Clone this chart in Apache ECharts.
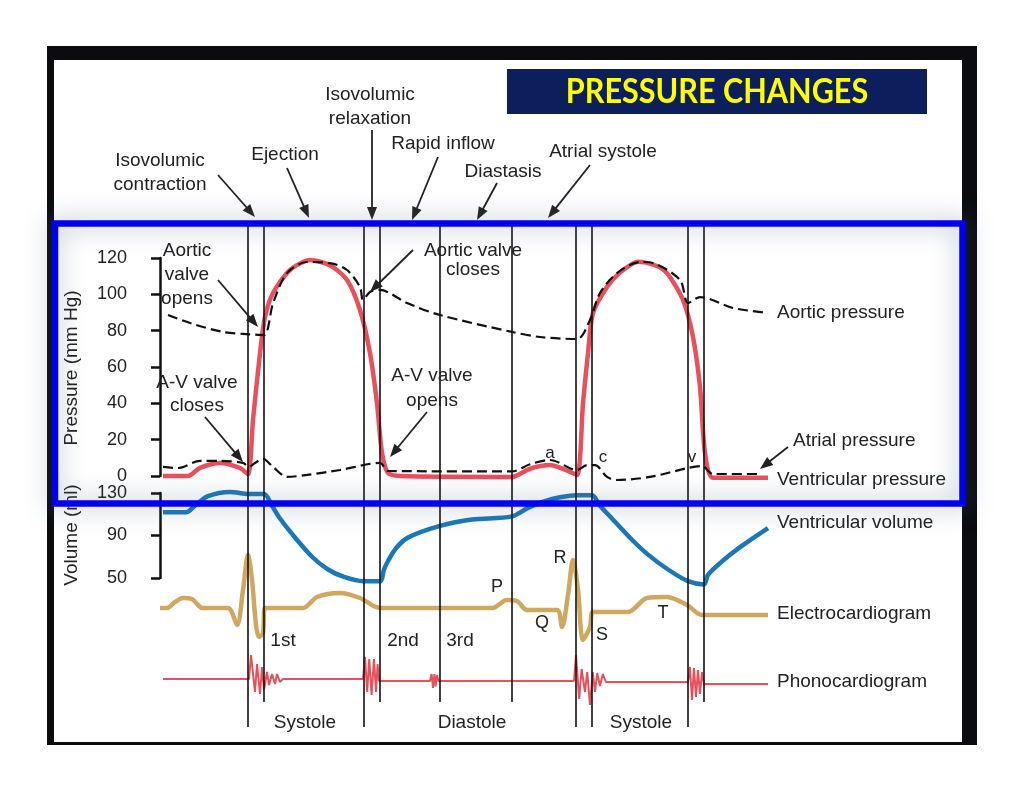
<!DOCTYPE html>
<html><head><meta charset="utf-8">
<script src="https://cdn.jsdelivr.net/npm/echarts@6/dist/echarts.min.js"></script>
<style>html,body{margin:0;padding:0;background:#fff}#c{width:1024px;height:791px}</style>
</head><body><div id="c"></div>
<script>
// ---- data: time in seconds ----
const pressureTicks = [0, 20, 40, 60, 80, 100, 120];
const volumeTicks = [50, 90, 130];
// phase boundaries (s)
const phaseLong = [0.2225, 0.5075, 1.0425, 1.08, 1.32];
const phaseShort = [0.26, 0.55, 0.6975, 0.88, 1.36];

// [time, mmHg]
const ventricularPressure = [
  [0.0075,0],[0.07,0],[0.10,4.5],[0.15,7.2],[0.20,4.4],[0.22,1],[0.2325,30.8],[0.25,67.7],
  [0.2625,87.5],[0.2825,100.7],[0.325,113.4],[0.375,118.9],[0.425,116],[0.4675,107.9],
  [0.50,91.4],[0.525,67.7],[0.5425,40],[0.555,12.7],[0.57,1.7],[0.60,0],[0.88,-0.5],
  [0.925,4],[0.975,6],[1.0125,3.5],[1.0425,0.5],[1.0575,40],[1.07,67.7],[1.0825,89.7],
  [1.1175,104],[1.15,112],[1.195,118],[1.2375,116],[1.2675,111.7],[1.3075,96.9],
  [1.3325,76.5],[1.35,49],[1.3625,12.7],[1.3825,-1],[1.52,-1]
];
const aorticPressure = [
  [0.02,88.6],[0.075,84.2],[0.1575,79.3],[0.2225,78],[0.26,77.6],[0.2825,95],[0.3175,111.7],
  [0.3675,117.8],[0.425,117.2],[0.4675,113.4],[0.50,104],[0.5075,96.9],[0.525,101.3],
  [0.55,102.4],[0.6175,95.2],[0.70,88.6],[0.88,79.3],[0.95,76.5],[1.0425,75.4],[1.075,85.9],
  [1.10,100.7],[1.1425,111.7],[1.20,117.8],[1.2325,117.2],[1.30,107.9],[1.32,95.2],
  [1.35,98.5],[1.4325,92.5],[1.52,89.7]
];
const atrialPressure = [
  [0.0075,5],[0.045,4.4],[0.10,8.3],[0.15,8.3],[0.2075,7.2],[0.2225,5],[0.2375,7.2],
  [0.2575,9.4],[0.2825,5],[0.3175,-0.5],[0.3675,0.6],[0.45,3.3],[0.55,7.2],[0.57,2.8],
  [0.88,2.5],[0.925,6.5],[0.975,8.8],[1.0425,3.3],[1.0675,6],[1.0875,6],[1.1175,-0.5],
  [1.1425,-2.2],[1.225,-0.5],[1.32,4.4],[1.355,5.5],[1.3825,1.1],[1.50,1.1]
];
// [time, ml]
const ventricularVolume = [
  [0.0075,112],[0.065,112],[0.09,119],[0.12,127],[0.175,131],[0.2225,129],[0.26,129],
  [0.28,118],[0.30,106],[0.34,87],[0.38,70],[0.42,58],[0.46,51],[0.5075,47],[0.55,47],
  [0.56,58],[0.57,66],[0.59,78],[0.62,88],[0.70,99],[0.78,105],[0.88,108],[0.92,116],
  [0.96,122],[1.0,126],[1.0425,128],[1.08,128],[1.10,118],[1.13,106],[1.18,86],[1.22,72],
  [1.27,58],[1.32,47],[1.36,44],[1.37,53],[1.40,64],[1.45,79],[1.52,97]
];
// [time, mV]
const ecg = [
  [0,0.04],[0.0175,0.04],[0.0375,0.16],[0.0575,0.24],[0.08,0.22],[0.095,0.1],[0.105,0.04],
  [0.17,0.04],[0.1925,-0.3],[0.2075,0.4],[0.22,1.1],[0.23,0.6],[0.24,-0.3],[0.2475,-0.54],
  [0.2575,-0.46],[0.2625,0.04],[0.3575,0.04],[0.3925,0.26],[0.45,0.34],[0.50,0.24],[0.55,0.04],
  [0.83,0.04],[0.8675,0.2],[0.8925,0.18],[0.9175,0],[0.9925,0],[1.005,-0.34],[1.02,0.3],
  [1.0325,1.0],[1.045,0.4],[1.0575,-0.6],[1.075,-0.34],[1.0825,-0.04],[1.17,-0.04],
  [1.2175,0.24],[1.2675,0.26],[1.3175,0.1],[1.355,-0.1],[1.52,-0.1]
];
// [time, amplitude]
const phono = [
  [0.0075,0],[0.2225,0],[0.2275,0.96],[0.2375,-0.52],[0.2425,0.6],[0.25,-0.6],[0.255,0.48],
  [0.26,-0.44],[0.2675,0.28],[0.2725,-0.24],[0.28,0.2],[0.2875,-0.2],[0.2925,0.2],[0.30,-0.12],
  [0.3075,0],[0.5075,0],[0.5125,0.88],[0.518,-0.52],[0.523,0.8],[0.529,-0.64],[0.535,0.8],
  [0.54,-0.52],[0.544,0.6],[0.5475,-0.08],[0.675,-0.08],[0.679,0.2],[0.6825,-0.36],
  [0.686,0.2],[0.689,-0.3],[0.6925,0.16],[0.696,-0.08],[1.035,-0.08],[1.04,0.96],
  [1.048,-0.8],[1.054,0.4],[1.0625,-0.52],[1.068,0.28],[1.075,-1.04],[1.082,0.28],
  [1.0875,-0.52],[1.093,0.24],[1.10,-0.28],[1.107,0.2],[1.115,-0.12],[1.123,-0.12],
  [1.32,-0.12],[1.325,0.48],[1.33,-0.84],[1.335,0.44],[1.34,-0.72],[1.345,0.36],[1.35,-0.6],
  [1.355,0.28],[1.36,-0.2],[1.52,-0.2]
];

const RED = '#e8505c', BLUE = '#1a78b8', TAN = '#cfa760', INK = '#222';
const FONT = 'Liberation Sans, Arial, sans-serif';
const T_MAX = 1.55;

const chart = echarts.init(document.getElementById('c'), null, {renderer: 'canvas'});

function xAx(i){ return {gridIndex:i, type:'value', min:0, max:T_MAX, show:false}; }
const yAxisStyle = {
  axisLine:{show:true, lineStyle:{color:'#111', width:2.5}},
  axisTick:{show:true, length:9, lineStyle:{color:'#111', width:2.5}},
  axisLabel:{color:'#222', fontSize:18, fontFamily:FONT, margin:19},
  splitLine:{show:false}
};

function txt(text, x, y, opt){
  opt = opt || {};
  return {type:'text', z:110, x:x, y:y, rotation:opt.rot||0,
    style:{text:text, x:0, y:0, fill:opt.fill||INK, font:(opt.weight||'normal')+' '+(opt.size||19)+'px '+FONT,
      align:opt.align||'center', verticalAlign:'middle', lineHeight:opt.lh||22}};
}
function arrow(x1,y1,x2,y2){
  const a = Math.atan2(y2-y1, x2-x1), L = 13, W = 5;
  const bx = x2 - L*Math.cos(a), by = y2 - L*Math.sin(a);
  return [
    {type:'line', z:110, shape:{x1:x1,y1:y1,x2:bx+3*Math.cos(a),y2:by+3*Math.sin(a)}, style:{stroke:INK, lineWidth:1.8}},
    {type:'polygon', z:110, shape:{points:[[x2,y2],[bx - W*Math.sin(a), by + W*Math.cos(a)],[bx + W*Math.sin(a), by - W*Math.cos(a)]]}, style:{fill:INK}}
  ];
}

const graphics = [
  {type:'rect', z:-10, shape:{x:47,y:46,width:930,height:699}, style:{fill:'#0b0b10'}},
  {type:'rect', z:-9, shape:{x:54,y:60,width:908,height:682}, style:{fill:'#ffffff'}},
  {type:'rect', z:120, shape:{x:55,y:223.5,width:907.5,height:280}, style:{fill:'none', stroke:'#0000f0', lineWidth:6.5, shadowBlur:24, shadowColor:'rgba(80,105,135,0.6)'}},
  {type:'rect', z:-5, shape:{x:507,y:69,width:420,height:45}, style:{fill:'#0c1f5c'}},
  {type:'text', z:110, x:717, y:92, scaleX:0.9, style:{text:'PRESSURE CHANGES', x:0, y:0, fill:'#ffff00', font:'bold 34px Lato, sans-serif', align:'center', verticalAlign:'middle'}},
  // top phase labels
  txt('Isovolumic\ncontraction', 160, 173, {lh:24}),
  txt('Ejection', 285, 155),
  txt('Isovolumic\nrelaxation', 370, 107, {lh:24}),
  txt('Rapid inflow', 443, 144),
  txt('Diastasis', 503, 172),
  txt('Atrial systole', 603, 152),
  // pressure annotations
  txt('Aortic\nvalve\nopens', 187, 275, {lh:24}),
  txt('Aortic valve\ncloses', 473, 260, {lh:19}),
  txt('A-V valve\ncloses', 197, 394, {lh:23}),
  txt('A-V valve\nopens', 432, 388, {lh:25}),
  txt('a', 550, 453, {size:17}),
  txt('c', 603, 457, {size:17}),
  txt('v', 692, 457, {size:17}),
  txt('Aortic pressure', 777, 313, {align:'left'}),
  txt('Atrial pressure', 793, 441, {align:'left'}),
  txt('Ventricular pressure', 777, 480, {align:'left'}),
  txt('Ventricular volume', 777, 523, {align:'left'}),
  txt('Electrocardiogram', 777, 614, {align:'left'}),
  txt('Phonocardiogram', 777, 682, {align:'left'}),
  // ECG wave labels
  txt('P', 497, 587, {size:18}), txt('Q', 542, 623, {size:18}), txt('R', 560, 558, {size:18}),
  txt('S', 602, 635, {size:18}), txt('T', 663, 613, {size:18}),
  txt('1st', 283, 641), txt('2nd', 403, 641), txt('3rd', 460, 641),
  txt('Systole', 305, 723), txt('Diastole', 472, 723), txt('Systole', 641, 723),
  // axis titles
  txt('Pressure (mm Hg)', 72, 368, {rot:Math.PI/2}),
  txt('Volume (ml)', 72, 535, {rot:Math.PI/2})
].concat(
  arrow(218,175,255,217), arrow(287,168,309,218), arrow(372,130,372,220),
  arrow(438,157,412,220), arrow(497,183,477,220), arrow(590,165,548,218),
  arrow(218,280,258,327), arrow(413,250,370,292), arrow(205,417,243,462),
  arrow(427,412,390,457), arrow(788,447,760,469)
);

function vlineSeries(grid, times){
  return {type:'line', xAxisIndex:grid, yAxisIndex:grid, data:[], z:1, silent:true,
    markLine:{silent:true, symbol:['none','none'], label:{show:false}, animation:false,
      lineStyle:{color:'#111', width:1.6, type:'solid'},
      data: times.map(t => ({xAxis:t}))}};
}

const option = {
  animation:false,
  backgroundColor:'#ffffff',
  grid:[
    {left:160, width:620, top:258, height:218},
    {left:160, width:620, top:493, height:85},
    {left:160, width:620, top:510, height:150},
    {left:160, width:620, top:641.5, height:75},
    {left:160, width:620, top:222, height:505},
    {left:160, width:620, top:222, height:480}
  ],
  xAxis:[xAx(0),xAx(1),xAx(2),xAx(3),xAx(4),xAx(5)],
  yAxis:[
    Object.assign({gridIndex:0, type:'value', min:0, max:120, interval:20, offset:14}, yAxisStyle),
    Object.assign({gridIndex:1, type:'value', min:50, max:130, offset:14}, yAxisStyle, {
      axisTick:{show:true, length:9, lineStyle:{color:'#111', width:2.5}, customValues:volumeTicks},
      axisLabel:{color:'#222', fontSize:18, fontFamily:FONT, margin:19, customValues:volumeTicks}}),
    {gridIndex:2, type:'value', min:-1, max:2, show:false},
    {gridIndex:3, type:'value', min:-1.5, max:1.5, show:false},
    {gridIndex:4, type:'value', min:0, max:1, show:false},
    {gridIndex:5, type:'value', min:0, max:1, show:false}
  ],
  graphic:{elements:graphics},
  series:[
    vlineSeries(4, phaseLong),
    vlineSeries(5, phaseShort),
    {name:'Aortic pressure', type:'line', xAxisIndex:0, yAxisIndex:0, data:aorticPressure, showSymbol:false, clip:false, smooth:0.3, z:4,
      lineStyle:{color:'#111', width:2.2, type:[10,5]}},
    {name:'Atrial pressure', type:'line', xAxisIndex:0, yAxisIndex:0, data:atrialPressure, showSymbol:false, clip:false, smooth:0.3, z:4,
      lineStyle:{color:'#111', width:2.2, type:[10,5]}},
    {name:'Ventricular pressure', type:'line', xAxisIndex:0, yAxisIndex:0, data:ventricularPressure, showSymbol:false, clip:false, smooth:0.25, z:3,
      lineStyle:{color:RED, width:4.5}},
    {name:'Ventricular volume', type:'line', xAxisIndex:1, yAxisIndex:1, data:ventricularVolume, showSymbol:false, clip:false, smooth:0.3, z:3,
      lineStyle:{color:BLUE, width:4.5}},
    {name:'Electrocardiogram', type:'line', xAxisIndex:2, yAxisIndex:2, data:ecg, showSymbol:false, clip:false, smooth:0.3, z:3,
      lineStyle:{color:TAN, width:4.5}},
    {name:'Phonocardiogram', type:'line', xAxisIndex:3, yAxisIndex:3, data:phono, showSymbol:false, clip:false, smooth:false, z:3,
      lineStyle:{color:RED, width:2}}
  ]
};
chart.setOption(option);
</script></body></html>
